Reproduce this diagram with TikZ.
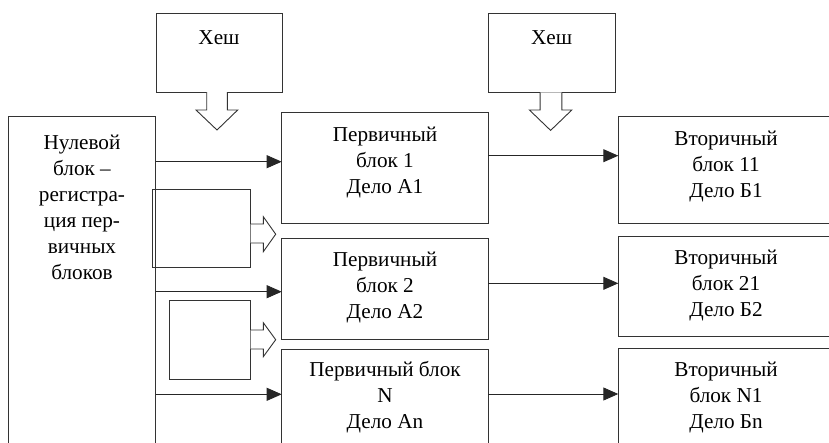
\documentclass[tikz,border=0pt]{standalone}
\usepackage{fontspec}
\setmainfont{Liberation Serif}
\usetikzlibrary{arrows.meta}
\begin{document}
\begin{tikzpicture}[x=1pt,y=-1pt,
  box/.style={draw=black!80, line width=0.9pt, outer sep=0pt, inner sep=0pt, anchor=north west},
  txt/.style={align=center, font=\fontsize{21.2}{26}\selectfont, inner sep=0pt},
  conn/.style={draw=black!85, line width=0.9pt, -{Triangle[length=15pt,width=13pt]}},
  barrow/.style={draw=black!80, line width=0.9pt, fill=white, line join=miter}]
\useasboundingbox (0,0) rectangle (829,442);
\clip (0,0) rectangle (829,442);
% boxes
\node[box, minimum width=126pt, minimum height=79pt] (h1) at (156,13) {};
\node[box, minimum width=127pt, minimum height=79pt] (h2) at (488.3,13.3) {};
\node[box, minimum width=147.4pt, minimum height=345pt] (z) at (8.3,116.7) {};
\node[box, minimum width=206.6pt, minimum height=111pt] (p1) at (281.7,112.3) {};
\node[box, minimum width=206.6pt, minimum height=100.7pt] (p2) at (281.7,238.3) {};
\node[box, minimum width=206.6pt, minimum height=110pt] (pN) at (281.7,349.3) {};
\node[box, minimum width=222pt, minimum height=106.6pt] (s1) at (618.3,116.7) {};
\node[box, minimum width=222pt, minimum height=100pt] (s2) at (618.3,236.7) {};
\node[box, minimum width=222pt, minimum height=112pt] (sN) at (618.3,348.3) {};
\node[box, minimum width=98.4pt, minimum height=78.4pt] (k1) at (152.3,189.3) {};
\node[box, minimum width=81.4pt, minimum height=78.3pt] (k2) at (169.3,300.7) {};
% texts
\node[txt] (h1t) at (219,38) {Хеш};
\node[txt] (h2t) at (551.7,38) {Хеш};
\node[txt] (zt) at (82,207.5) {Нулевой\\блок –\\регистра-\\ция пер-\\вичных\\блоков};
\node[txt] (p1t) at (385,162) {Первичный\\блок 1\\Дело А1};
\node[txt] (p2t) at (385,287) {Первичный\\блок 2\\Дело А2};
\node[txt] (pNt) at (385,397) {Первичный блок\\N\\Дело An};
\node[txt] (s1t) at (726,166) {Вторичный\\блок 11\\Дело Б1};
\node[txt] (s2t) at (726,285) {Вторичный\\блок 21\\Дело Б2};
\node[txt] (sNt) at (726,397) {Вторичный\\блок N1\\Дело Бn};
% connector levels
\coordinate (a1) at (0,161.7);
\coordinate (a2) at (0,291.7);
\coordinate (a3) at (0,394.3);
\coordinate (b1) at (0,155.7);
\coordinate (b2) at (0,283.3);
\coordinate (b3) at (0,394);
\draw[conn] (a1 -| z.east) -- (a1 -| p1.west);
\draw[conn] (a2 -| z.east) -- (a2 -| p2.west);
\draw[conn] (a3 -| z.east) -- (a3 -| pN.west);
\draw[conn] (b1 -| p1.east) -- (b1 -| s1.west);
\draw[conn] (b2 -| p2.east) -- (b2 -| s2.west);
\draw[conn] (b3 -| pN.east) -- (b3 -| sN.west);
% block arrows down
\draw[barrow] ([xshift=-12.3pt]h1.south) -- ++(0,18) -- ++(-10.7,0) -- ++(21,20) -- ++(20.7,-20) -- ++(-10.4,0) -- ++(0,-18);
\draw[barrow] ([xshift=-11.7pt]h2.south) -- ++(0,17.7) -- ++(-10.7,0) -- ++(21.2,20.4) -- ++(21.2,-20.4) -- ++(-10,0) -- ++(0,-17.7);
% block arrows right
\draw[barrow] (k1.east |- 0,224) -- (263.3,224) -- (263.3,216.7) -- (275.7,234.2) -- (263.3,251.7) -- (263.3,243) -- (k1.east |- 0,243);
\draw[barrow] (k2.east |- 0,330) -- (263.3,330) -- (263.3,322.7) -- (275.7,339.7) -- (263.3,356.7) -- (263.3,349) -- (k2.east |- 0,349);
\end{tikzpicture}
\end{document}
